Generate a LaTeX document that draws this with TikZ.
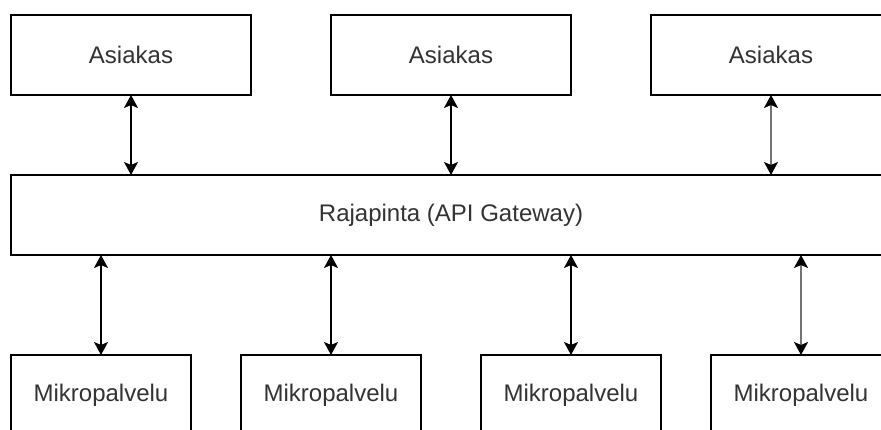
\documentclass[tikz,border=0pt]{standalone}
\usepackage{fontspec}
\setmainfont{Liberation Sans}
\usetikzlibrary{arrows.meta}
\tikzset{
  box/.style={draw=black, line width=1.6pt, fill=white, inner sep=0pt, outer sep=0pt,
    minimum width=240pt, minimum height=80pt, text=black!80,
    font=\fontsize{24}{28}\selectfont},
  svc/.style={box, minimum width=180pt},
  link/.style={line width=1.6pt, {Stealth[length=13pt,width=14pt,inset=3pt]}-{Stealth[length=13pt,width=14pt,inset=3pt]}},
  softlink/.style={link, draw=black!55,
    {Stealth[length=13pt,width=14pt,inset=3pt,color=black]}-{Stealth[length=13pt,width=14pt,inset=3pt,color=black]}}
}
\begin{document}
\begin{tikzpicture}[x=1pt,y=-1pt]
  \useasboundingbox (0,0) rectangle (881,430);
  \clip (0,0) rectangle (881,430);
  \fill[white] (0,0) rectangle (881,430);

  % clients
  \node[box] (c1) at (131,55) {Asiakas};
  \node[box] (c2) at (451,55) {Asiakas};
  \node[box] (c3) at (771,55) {Asiakas};

  % gateway
  \node[box, minimum width=880pt] (gw) at (451,215) {Rajapinta (API Gateway)};

  % services
  \node[svc] (m1) at (101,395) {Mikropalvelu};
  \node[svc] (m2) at (331,395) {Mikropalvelu};
  \node[svc] (m3) at (571,395) {Mikropalvelu};
  \node[svc] (m4) at (801,395) {Mikropalvelu};

  % client <-> gateway
  \draw[link] (c1.south) -- (c1.south |- gw.north);
  \draw[link] (c2.south) -- (c2.south |- gw.north);
  \draw[softlink] (c3.south) -- (c3.south |- gw.north);

  % gateway <-> services
  \draw[link] (m1.north |- gw.south) -- (m1.north);
  \draw[link] (m2.north |- gw.south) -- (m2.north);
  \draw[link] (m3.north |- gw.south) -- (m3.north);
  \draw[softlink] (m4.north |- gw.south) -- (m4.north);
\end{tikzpicture}
\end{document}
